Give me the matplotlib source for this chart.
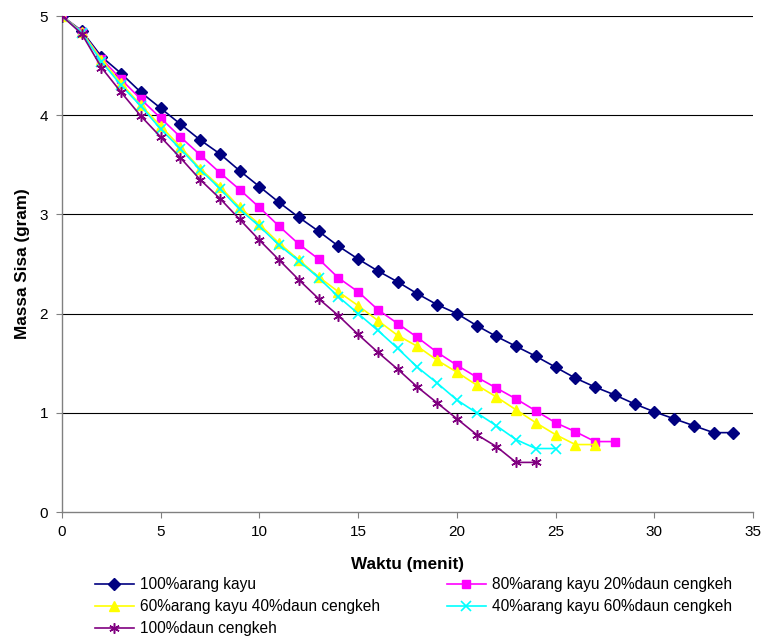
import matplotlib
matplotlib.use("Agg")
import matplotlib.pyplot as plt

plt.rcParams['font.family'] = ['Liberation Sans', 'DejaVu Sans']

# Data
t_arang = list(range(0, 35))
m_arang = [5.00, 4.85, 4.59, 4.42, 4.23, 4.07, 3.91, 3.75, 3.61, 3.44,
           3.28, 3.12, 2.97, 2.83, 2.68, 2.55, 2.43, 2.32, 2.20, 2.09,
           2.00, 1.88, 1.77, 1.67, 1.57, 1.46, 1.35, 1.26, 1.18, 1.09,
           1.01, 0.94, 0.87, 0.80, 0.80]

t_80 = list(range(0, 29))
m_80 = [5.00, 4.84, 4.57, 4.36, 4.16, 3.97, 3.78, 3.60, 3.42, 3.25,
        3.07, 2.88, 2.70, 2.55, 2.36, 2.22, 2.04, 1.90, 1.76, 1.61,
        1.48, 1.36, 1.25, 1.14, 1.02, 0.90, 0.81, 0.71, 0.71]

t_60 = list(range(0, 28))
m_60 = [5.00, 4.84, 4.56, 4.32, 4.10, 3.89, 3.68, 3.46, 3.28, 3.07,
        2.90, 2.71, 2.54, 2.37, 2.22, 2.08, 1.93, 1.78, 1.67, 1.53,
        1.41, 1.28, 1.16, 1.03, 0.90, 0.78, 0.68, 0.68]

t_40 = list(range(0, 26))
m_40 = [5.00, 4.83, 4.54, 4.30, 4.09, 3.86, 3.66, 3.45, 3.26, 3.05,
        2.88, 2.69, 2.53, 2.36, 2.17, 2.00, 1.83, 1.65, 1.46, 1.30,
        1.13, 1.00, 0.87, 0.73, 0.64, 0.64]

t_daun = list(range(0, 25))
m_daun = [5.00, 4.82, 4.48, 4.23, 3.99, 3.78, 3.57, 3.35, 3.16, 2.95,
          2.74, 2.54, 2.34, 2.15, 1.98, 1.79, 1.61, 1.44, 1.26, 1.10,
          0.94, 0.78, 0.66, 0.50, 0.50]

labels = ["100%arang kayu", "80%arang kayu 20%daun cengkeh",
          "60%arang kayu 40%daun cengkeh", "40%arang kayu 60%daun cengkeh",
          "100%daun cengkeh"]

fig = plt.figure(figsize=(7.62, 6.39), dpi=100)
ax = fig.add_axes([62/762, 1-512/639, (753-62)/762, (512-16)/639])

asterisk = (6, 2, 0)
styles = [
    dict(color='#000080', marker='D', ms=6),
    dict(color='#FF00FF', marker='s', ms=6),
    dict(color='#FFFF00', marker='^', ms=7),
    dict(color='#00FFFF', marker='x', ms=7, mew=1.2),
    dict(color='#800080', marker=asterisk, ms=7.5, mew=1.1),
]
series = [(t_arang, m_arang), (t_80, m_80), (t_60, m_60), (t_40, m_40), (t_daun, m_daun)]

handles = []
for (t, m), st, lab in zip(series, styles, labels):
    h, = ax.plot(t, m, lw=1.2, label=lab, zorder=3, **st)
    handles.append(h)

ax.set_xlim(0, 35)
ax.set_ylim(0, 5)
ax.set_xticks(range(0, 36, 5))
ax.set_yticks(range(0, 6))
for y in range(1, 6):
    ax.axhline(y, color='#000000', lw=0.8, zorder=1)

for s in ['top', 'right']:
    ax.spines[s].set_visible(False)
ax.spines['left'].set_color('#808080')
ax.spines['bottom'].set_color('#808080')
ax.spines['left'].set_linewidth(1.0)
ax.spines['bottom'].set_linewidth(1.0)
ax.tick_params(axis='both', direction='out', length=4, width=0.8, color='#808080',
               labelsize=11, labelcolor='black')
ax.tick_params(axis='y', pad=6)
ax.tick_params(axis='x', pad=5)

ax.set_xlabel("Waktu (menit)", fontsize=12.3, fontweight='bold', labelpad=13)
ax.set_ylabel("Massa Sisa (gram)", fontsize=12.3, fontweight='bold', labelpad=7)

leg_kw = dict(frameon=False, fontsize=11.2, handlelength=2.5, handletextpad=0.4,
              labelspacing=0.45, borderpad=0, borderaxespad=0)
leg1 = fig.legend([handles[0], handles[2], handles[4]],
                  [labels[0], labels[2], labels[4]],
                  loc='upper left', bbox_to_anchor=(95/762, 1-577/639), **leg_kw)
leg2 = fig.legend([handles[1], handles[3]], [labels[1], labels[3]],
                  loc='upper left', bbox_to_anchor=(447/762, 1-577/639), **leg_kw)

fig.savefig("out.png", dpi=100)
